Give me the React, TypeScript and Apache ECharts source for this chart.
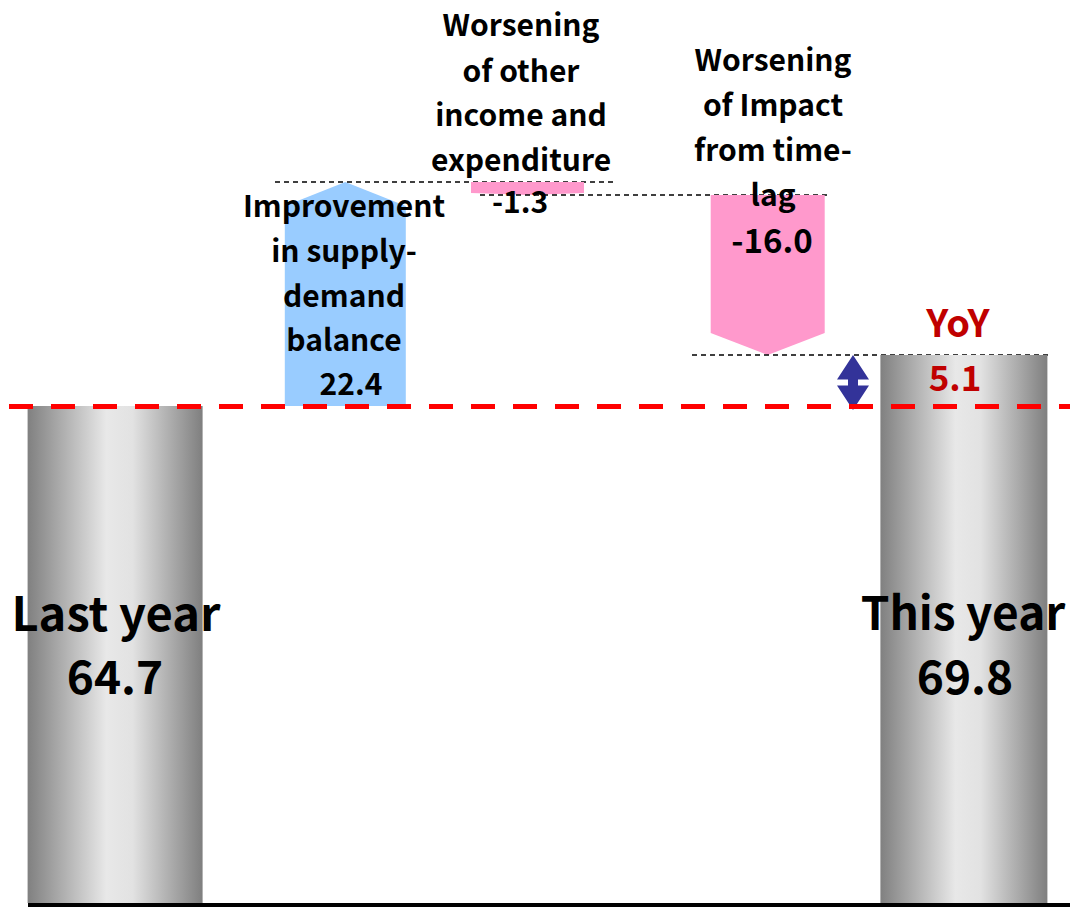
import React, { useEffect, useRef } from 'react';
import * as echarts from 'echarts';

// ---------- data ----------
const categories = [
  'Last year',
  'Improvement in supply-demand balance',
  'Worsening of other income and expenditure',
  'Worsening of Impact from time-lag',
  'This year',
];
const lastYearValue = 64.7;
const changeValues = [22.4, -1.3, -16.0];
const thisYearValue = 69.8;
const yoyValue = 5.1;
const titleLines = [
  ['Last year'],
  ['Improvement', 'in supply-', 'demand', 'balance'],
  ['Worsening', 'of other', 'income and', 'expenditure'],
  ['Worsening', 'of Impact', 'from time-', 'lag'],
  ['This year'],
];

// ---------- layout / style constants ----------
const Y_MIN = 15;
const Y_MAX = 105;
const DX = [0, 18, -12, 16, 0];
const BAR_W = [175, 121, 113, 114, 167];
const CONNECTOR: (number[] | null)[] = [null, [275, 615], [480, 827], [692, 1050], null];
const FONT = '"Noto Sans CJK JP", "Noto Sans", sans-serif';

function fmt(v: number) {
  return v.toFixed(1);
}

export default function App() {
  const ref = useRef<HTMLDivElement>(null);
  useEffect(() => {
    if (!ref.current) return;
    const chart = echarts.init(ref.current, null, { renderer: 'svg' });

    const items: number[][] = [];
    items.push([0, 0, lastYearValue]);
    let running = lastYearValue;
    changeValues.forEach((c, i) => {
      items.push([i + 1, running, running + c]);
      running += c;
    });
    items.push([4, 0, thisYearValue]);

    const grad = () =>
      new echarts.graphic.LinearGradient(0, 0, 1, 0, [
        { offset: 0, color: '#808080' },
        { offset: 0.45, color: '#e8e8e8' },
        { offset: 0.6, color: '#e2e2e2' },
        { offset: 1, color: '#7f7f7f' },
      ]);

    const renderItem = (params: any, api: any) => {
      const idx = api.value(0);
      const s = api.value(1);
      const e = api.value(2);
      const cx = api.coord([idx, e])[0] + DX[idx];
      const yS = api.coord([idx, Math.max(s, Y_MIN)])[1];
      const yE = api.coord([idx, e])[1];
      const w = BAR_W[idx];
      const x0 = cx - w / 2;
      const x1 = cx + w / 2;
      const children: any[] = [];
      if (idx === 0 || idx === categories.length - 1) {
        children.push({
          type: 'rect',
          shape: { x: x0, y: yE, width: w, height: yS - yE },
          style: { fill: grad() },
        });
      } else if (e > s) {
        const h = yS - yE;
        const sh = Math.min(24, h * 0.16);
        children.push({
          type: 'polygon',
          shape: { points: [[x0, yS], [x0, yE + sh], [cx, yE], [x1, yE + sh], [x1, yS]] },
          style: { fill: '#99ccff' },
        });
      } else {
        const h = yE - yS;
        const sh = Math.min(22, h * 0.16);
        children.push({
          type: 'polygon',
          shape: { points: [[x0, yS], [x1, yS], [x1, yE - sh], [cx, yE], [x0, yE - sh]] },
          style: { fill: '#ff99cc' },
        });
      }
      const conn = CONNECTOR[idx];
      if (conn) {
        children.push({
          type: 'line',
          shape: { x1: conn[0], y1: yE, x2: conn[1], y2: yE },
          style: { stroke: '#000', lineWidth: 1.5, lineDash: [5, 4] },
        });
      }
      if (idx === categories.length - 1) {
        const yt = yE;
        const yb = api.coord([idx, lastYearValue])[1] + 4;
        const ym = (yt + yb) / 2;
        const ax = 853;
        children.push({
          type: 'polygon',
          z2: 10,
          shape: {
            points: [
              [ax, yt], [ax + 16, ym - 3], [ax + 5, ym - 3], [ax + 5, ym + 3], [ax + 16, ym + 3],
              [ax, yb], [ax - 16, ym + 3], [ax - 5, ym + 3], [ax - 5, ym - 3], [ax - 16, ym - 3],
            ],
          },
          style: { fill: '#333399' },
        });
      }
      return { type: 'group', children };
    };

    const txt = (text: string, x: number, y: number, size: number, color = '#000') => ({
      type: 'text',
      z: 100,
      style: {
        text,
        x,
        y,
        fill: color,
        fontSize: size,
        fontFamily: FONT,
        fontWeight: 'bold',
        textAlign: 'center',
        textVerticalAlign: 'middle',
      },
    });

    const graphics: any[] = [
      {
        type: 'line',
        z: 50,
        shape: { x1: 28, y1: 905, x2: 1070, y2: 905 },
        style: { stroke: '#000', lineWidth: 4 },
      },
    ];
    // big totals
    graphics.push(txt(titleLines[0][0], 116, 610, 47));
    graphics.push(txt(fmt(lastYearValue), 115, 674, 46));
    graphics.push(txt(titleLines[4][0], 963, 610, 46));
    graphics.push(txt(fmt(thisYearValue), 965, 674, 46));
    // improvement
    const impY = [204, 249, 294, 338];
    titleLines[1].forEach((l, i) => graphics.push(txt(l, 344, impY[i], 30)));
    graphics.push(txt(fmt(changeValues[0]), 351, 382, 30));
    // other income
    const othY = [23, 69, 113, 158];
    titleLines[2].forEach((l, i) => graphics.push(txt(l, 521, othY[i], 30)));
    graphics.push(txt(fmt(changeValues[1]), 520, 200, 30));
    // time lag
    const lagY = [58, 103, 148, 193];
    titleLines[3].forEach((l, i) => graphics.push(txt(l, 773, lagY[i], 30)));
    graphics.push(txt(fmt(changeValues[2]), 772, 239, 33));
    // YoY
    graphics.push(txt('YoY', 958, 320, 38, '#c00000'));
    graphics.push(txt(fmt(yoyValue), 955, 375, 35, '#c00000'));

    chart.setOption({
      animation: false,
      grid: { left: 9, width: 1064, top: 3, bottom: 4 },
      xAxis: {
        type: 'category',
        data: categories,
        show: false,
        boundaryGap: true,
      },
      yAxis: { type: 'value', min: Y_MIN, max: Y_MAX, show: false },
      series: [
        {
          type: 'custom',
          renderItem,
          data: items,
          encode: { x: 0, y: [1, 2] },
          clip: false,
          markLine: {
            silent: true,
            symbol: 'none',
            label: { show: false },
            lineStyle: { color: '#ff0000', width: 5, type: [24, 18] },
            data: [{ yAxis: lastYearValue }],
            z: 20,
          },
        },
      ],
      graphic: graphics,
    });
    return () => chart.dispose();
  }, []);
  return <div ref={ref} style={{ position: 'absolute', left: 0, top: 0, width: 1070, height: 907 }} />;
}
